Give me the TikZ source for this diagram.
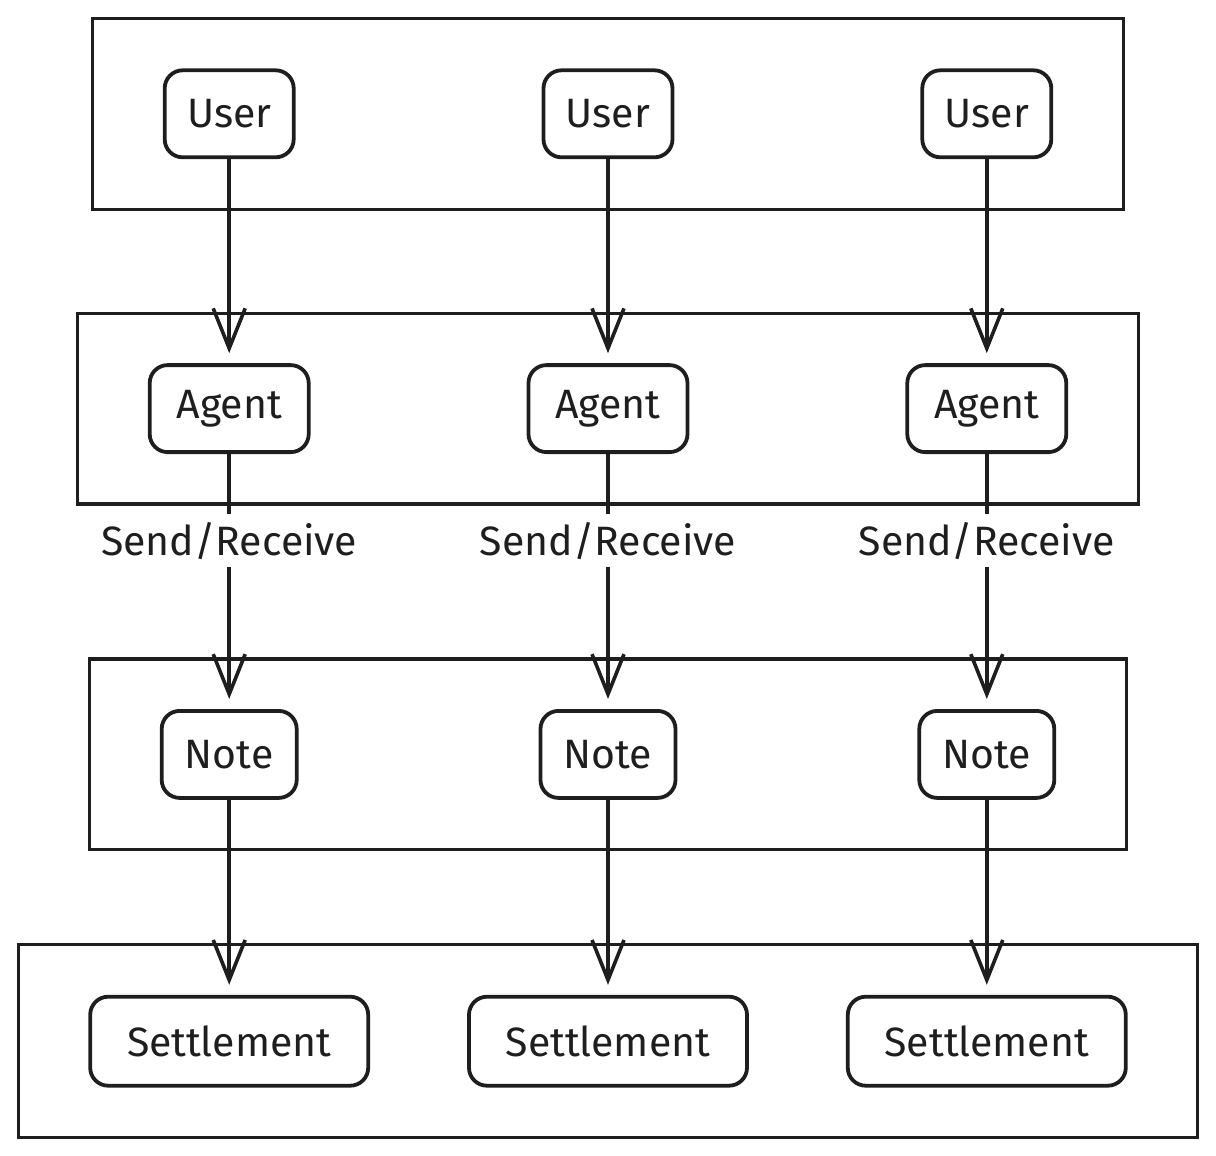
\documentclass[tikz,border=0pt]{standalone}
\usepackage{fontspec}
\setmainfont{Fira Sans}
\usetikzlibrary{arrows.meta,fit}
\definecolor{ink}{HTML}{1E1E1E}

\begin{document}
\begin{tikzpicture}[
      x=0.5pt, y=-0.5pt,
      font=\fontsize{20.5}{24}\selectfont,
      every matrix/.style={ampersand replacement=\&,column sep=48.5pt,row sep=0pt,inner sep=0pt},
      object/.style={draw=ink,line width=1.9pt,rounded corners=9pt,minimum height=43.5pt,text=ink},
      layer/.style={draw=ink,line width=1.6pt,inner xsep=35pt,inner ysep=25pt},
      to/.style={-{Straight Barb[length=20pt,width=16pt]},line width=1.8pt,draw=ink,shorten >=5pt},
      label/.style={fill=white,text=ink,inner xsep=2pt,inner ysep=4pt},
      ]

    % Page size
    \useasboundingbox (0,0) rectangle (1216,1156);

    % Position the nodes
    \matrix at (608,578) {
      \node[object,minimum width=64.5pt] (user1) {User}; \&
      \node[object,minimum width=64.5pt] (user2) {User}; \&
      \node[object,minimum width=64.5pt] (user3) {User}; \\[102pt]
      \node[object,minimum width=79.5pt] (agent1) {Agent}; \&
      \node[object,minimum width=79.5pt] (agent2) {Agent}; \&
      \node[object,minimum width=79.5pt] (agent3) {Agent}; \\[127.5pt]
      \node[object,minimum width=67.5pt] (note1) {Note}; \&
      \node[object,minimum width=67.5pt] (note2) {Note}; \&
      \node[object,minimum width=67.5pt] (note3) {Note}; \\[97.5pt]
      \node[object,minimum width=139pt,minimum height=44.5pt] (settle1) {Settlement}; \&
      \node[object,minimum width=139pt,minimum height=44.5pt] (settle2) {Settlement}; \&
      \node[object,minimum width=139pt,minimum height=44.5pt] (settle3) {Settlement}; \\
    };

    % Frames round each row
    \node[layer,fit=(user1)(user3)] (users) {};
    \node[layer,fit=(agent1)(agent3)] (agents) {};
    \node[layer,fit=(note1)(note3)] (notes) {};
    \node[layer,fit=(settle1)(settle3)] (settles) {};

    % Draw the arrows and labels
    \draw[to] (user1) -- (agent1);
    \draw[to] (user2) -- (agent2);
    \draw[to] (user3) -- (agent3);

    \draw[to] (agent1) -- node[pos=0.34,label] {Send/Receive} (note1);
    \draw[to] (agent2) -- node[pos=0.34,label] {Send/Receive} (note2);
    \draw[to] (agent3) -- node[pos=0.34,label] {Send/Receive} (note3);

    \draw[to] (note1) -- (settle1);
    \draw[to] (note2) -- (settle2);
    \draw[to] (note3) -- (settle3);

  \end{tikzpicture}
\end{document}
